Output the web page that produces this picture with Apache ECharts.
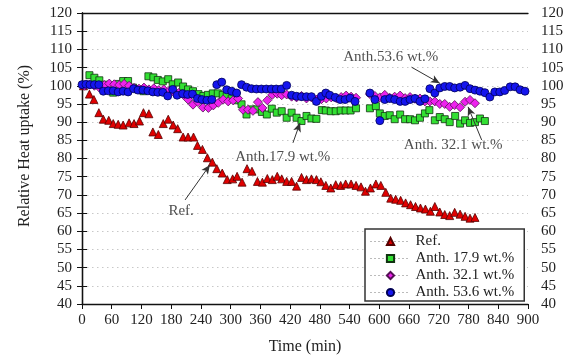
<!DOCTYPE html>
<html><head><meta charset="utf-8">
<script src="https://cdn.jsdelivr.net/npm/echarts@6/dist/echarts.min.js"></script>
<style>html,body{margin:0;padding:0;background:#fff}#c{width:574px;height:360px}</style>
</head><body><div id="c"></div>
<script>
// ---- data (time in min, relative heat uptake in %) ----
const refT=[3,15,24,34,43,54,63,73,83,95,105,116,124,135,143,154,164,174,184,193,204,214,225,233,243,253,263,272,283,293,304,313,323,333,343,354,364,374,384,394,403,413,423,433,443,453,463,473,482,492,502,512,522,532,543,553,563,572,582,593,603,613,623,633,643,653,663,673,683,693,703,712,722,732,742,752,763,773,783,793];
const refV=[100,97.7,96.2,92.6,90.8,90.5,89.6,89.4,89.2,89.8,89.6,90.3,92.6,92.3,87.3,86.6,89.6,90.8,89.2,88.2,85.9,85.9,85.9,83.6,82.5,80.2,79,77.2,76,74.2,74.4,75.1,73.5,77.2,76.5,73.7,73.5,74.5,74.2,75.1,74.4,73.7,73.7,72.4,74.8,74.2,74.4,74.2,73.6,72.6,71.9,72.8,72.6,73,73,72.6,72.2,71,71.9,73,72.6,70.7,69.1,68.8,68.5,67.8,67.3,66.8,66.4,66.1,65.5,66.8,65.3,64.6,64.3,65.2,64.7,64.1,63.6,63.8];

const a179T=[15,25,35,45,55,63,73,83,93,103,113,124,134,144,153,163,174,183,194,204,214,224,235,245,254,264,274,284,292,302,312,322,332,342,352,363,373,383,393,403,413,423,433,443,453,463,473,484,492,502,512,522,532,542,553,581,593,601,611,621,631,642,652,662,672,682,692,701,712,722,732,742,753,763,773,783,793,803,813];
const a179V=[102.9,102.2,101.5,100.3,99.5,98.1,100.5,101.3,101.3,99.5,99,98.5,102.6,102.3,101.6,101.2,101.8,100.4,100.9,99.8,99,98.5,97.7,97.2,97.5,97.9,97.9,97.5,97.2,96.5,96,94.9,92.1,93.5,93.5,92.8,92.1,93.7,92.6,93,91.2,92.6,91.2,90.3,91.7,91,90.9,93.3,93.2,93,93,93.2,93.2,93.2,93.8,93.8,94.4,92.4,91.7,91.9,90.8,92.1,90.8,90.8,90.5,91.2,92.4,93.3,90.5,91.4,90.8,90,91.7,89.6,90.5,89.8,90,91,90.3];

const a321T=[5,15,25,35,45,55,65,75,85,95,105,115,125,135,145,155,165,175,185,195,205,214,224,234,244,255,265,275,285,295,305,315,325,335,345,355,364,374,384,394,403,413,423,433,443,453,463,473,483,493,503,513,523,533,543,553,581,591,601,611,621,631,642,652,662,672,682,692,702,712,722,732,742,752,763,773,783,793];
const a321V=[100,100.3,100,99.5,100.2,100.6,100.4,100.2,100.5,100,99.4,99.2,99.5,99,99.3,98.8,99,98.5,98.3,98,97.5,96.2,94.8,95.5,94,93.9,94.6,95.3,96.2,95.7,96,96.5,93.4,93.4,93.1,95.5,93.9,96,97.5,97.8,97.4,97.6,97,96.8,97.2,96.5,96.8,96.2,96.3,96.5,96.8,96.6,96.9,97.3,97,96.7,97.7,97.2,96.8,97.5,96.7,97,97.3,96.6,96.9,96.4,96.5,95.7,95.7,95.7,95,95,94.2,94.7,94.1,95.6,96.1,95.2];

const a536T=[0,8,16,25,34,43,53,63,73,83,93,104,113,123,133,143,153,163,173,183,192,203,213,223,233,242,252,262,272,282,292,302,312,322,332,342,352,362,372,382,392,402,413,423,433,443,453,463,473,483,492,500,511,521,531,541,551,581,591,601,611,621,631,642,652,662,672,682,692,702,712,722,732,742,752,763,773,783,793,803,813,823,833,843,853,864,874,884,894];
const a536V=[100.3,100.4,100.3,100.3,100.3,98.5,98.6,98.6,98.3,98.5,98.3,99.2,98.8,98.8,98.6,98.3,98.2,98.2,97.2,99,97.4,97.8,97.6,97.7,96.5,96.2,96,96.2,100.3,101,98.9,98.5,98,100.3,99.6,99.2,99.1,99.1,99.1,99.1,99.1,99.1,100.1,97.4,97.1,97,97,97,95.7,97.1,98,97.4,96.8,96.2,96.2,96.6,95.7,98,96.2,90.4,96.2,96.5,96.2,95.7,95.7,96.2,96.5,95.7,96.4,99.2,98,99.4,99.8,99.8,99.4,99.6,100.1,99.2,98.8,98.5,98.1,96.9,98.3,98.3,98.7,99.7,99.7,98.9,98.5];

const seriesNames=['Ref.','Anth. 17.9 wt.%','Anth. 32.1 wt.%','Anth. 53.6 wt.%'];
const xTitle='Time (min)';
const yTitle='Relative Heat uptake (%)';
const annotationTexts=['Ref.','Anth.17.9 wt.%','Anth. 32.1 wt.%','Anth.53.6 wt.%'];

// ---- chart ----
const FONT='Liberation Serif';
const pairs=(T,V)=>T.map((t,i)=>[t,V[i]]);
function mk(name,T,V,symbol,size,color,border,z){
  return {name,type:'line',data:pairs(T,V),symbol,symbolSize:size,showSymbol:true,showAllSymbol:true,
    lineStyle:{width:0,opacity:0},itemStyle:{color,borderColor:border,borderWidth:0.8},
    emphasis:{disabled:true},animation:false,z};
}
const chart=echarts.init(document.getElementById('c'),null,{renderer:'canvas'});
const axisCommon={type:'value',min:40,max:120,interval:5,
  axisLine:{show:true,lineStyle:{color:'#111',width:1.3}},
  axisTick:{show:true,length:5,lineStyle:{color:'#111',width:1}},
  axisLabel:{fontFamily:FONT,fontSize:15,color:'#222'}};
const annPts=[[200,65.6],[405,80.4],[749,83.7],[623,107.9]];
chart.setOption({
  animation:false,
  backgroundColor:'#fff',
  grid:{left:82,right:46,top:13,bottom:56,containLabel:false},
  xAxis:[
    {type:'value',min:0,max:900,interval:60,position:'bottom',
     axisLine:{show:true,onZero:false,lineStyle:{color:'#111',width:1.3}},
     axisTick:{show:true,length:5,lineStyle:{color:'#111',width:1}},
     axisLabel:{fontFamily:FONT,fontSize:15,color:'#222',margin:9},
     splitLine:{show:false},
     name:xTitle,nameLocation:'middle',nameGap:35,
     nameTextStyle:{fontFamily:FONT,fontSize:16,color:'#222'}},
    {type:'value',min:0,max:900,position:'top',
     axisLine:{show:true,onZero:false,lineStyle:{color:'#111',width:1.3}},
     axisTick:{show:false},axisLabel:{show:false},splitLine:{show:false}}
  ],
  yAxis:[
    Object.assign({},axisCommon,{position:'left',axisLabel:Object.assign({},axisCommon.axisLabel,{margin:10}),
      splitLine:{show:true,lineStyle:{color:'#c8c8c8',type:[1.5,3.5],width:1}}}),
    Object.assign({},axisCommon,{position:'right',axisLabel:Object.assign({},axisCommon.axisLabel,{margin:13}),
      splitLine:{show:false}})
  ],
  legend:{
    data:seriesNames,orient:'vertical',left:365,top:229,
    itemWidth:40,itemHeight:9,itemGap:2,
    padding:[5,10,1,5],
    borderColor:'#333',borderWidth:1.5,backgroundColor:'#fff',
    lineStyle:{width:1,type:[1,3],color:'#777',opacity:1},
    textStyle:{fontFamily:FONT,fontSize:15,color:'#222'},
    selectedMode:false
  },
  graphic:[{type:'text',x:25,y:146,rotation:Math.PI/2,
    style:{text:yTitle,font:'16px "Liberation Serif"',fill:'#222',align:'center',verticalAlign:'middle'}}],
  series:[
    mk(seriesNames[0],refT,refV,'triangle',8,'#e00000','#550000',3),
    mk(seriesNames[1],a179T,a179V,'rect',7,'#33e033','#113311',4),
    mk(seriesNames[2],a321T,a321V,'diamond',9,'#ee22ee','#551155',5),
    mk(seriesNames[3],a536T,a536V,'circle',8,'#1515ee','#000055',6),
    {name:'annot',type:'scatter',data:annPts.map((p,i)=>[p[0],p[1],annotationTexts[i]]),
     symbol:'rect',symbolSize:1,itemStyle:{color:'transparent'},silent:true,animation:false,z:7,
     label:{show:true,position:'inside',formatter:p=>p.data[2],fontFamily:FONT,fontSize:15,color:'#222'},
     markLine:{silent:true,animation:false,symbol:['none','arrow'],symbolSize:[6,9],
       lineStyle:{color:'#333',width:1,type:'solid'},label:{show:false},
       data:[
         [{coord:[208,68.6]},{coord:[258,78.2]}],
         [{coord:[425.7,84.3]},{coord:[440,89.8]}],
         [{coord:[806.5,85.1]},{coord:[779,94.2]}],
         [{coord:[665,105.1]},{coord:[722,100.7]}]
       ]}}
  ]
});
</script></body></html>
